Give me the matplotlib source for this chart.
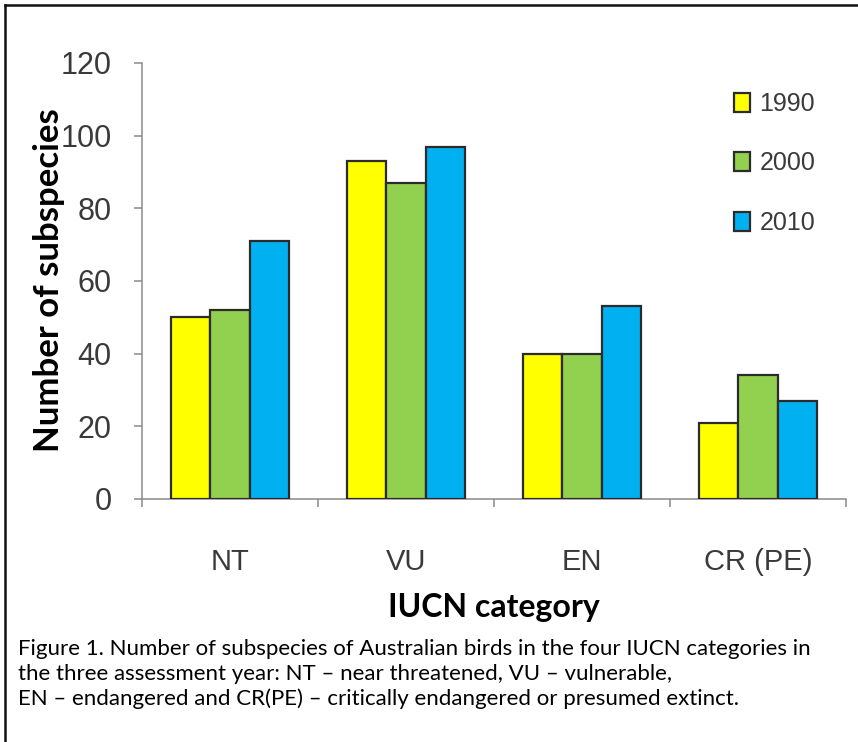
import numpy as np
import matplotlib
matplotlib.use('Agg')
import matplotlib.pyplot as plt
from matplotlib.lines import Line2D

# Data
categories = ['NT', 'VU', 'EN', 'CR (PE)']
years = ['1990', '2000', '2010']
vals_1990 = [50, 93, 40, 21]
vals_2000 = [52, 87, 40, 34]
vals_2010 = [71, 97, 53, 27]
yticks = [0, 20, 40, 60, 80, 100, 120]

caption = ("Figure 1. Number of subspecies of Australian birds in the four IUCN categories in\n"
           "the three assessment year: NT \u2013 near threatened, VU \u2013 vulnerable,\n"
           "EN \u2013 endangered and CR(PE) \u2013 critically endangered or presumed extinct.")

# Colors
YELLOW = '#FFFF00'
GREEN = '#92D050'
BLUE = '#00B0F0'
EDGE = '#2B2B2B'
AXIS = '#8A8A8A'
TXT = '#3A3A3A'

NARROW = ['Liberation Sans', 'DejaVu Sans']
HUMAN = ['Lato', 'DejaVu Sans']

W, H = 858, 742
fig = plt.figure(figsize=(W / 100, H / 100), dpi=100)
fig.patch.set_facecolor('white')

# axes placed in pixel terms
x0, x1, ytop, ybot = 142, 846, 63, 499
ax = fig.add_axes([x0 / W, 1 - ybot / H, (x1 - x0) / W, (ybot - ytop) / H])

x = np.arange(len(categories)) + 0.5
bw = 0.222
series = [vals_1990, vals_2000, vals_2010]
colors = [YELLOW, GREEN, BLUE]
bars = []
for i, (v, c) in enumerate(zip(series, colors)):
    b = ax.bar(x + (i - 1) * bw, v, width=bw, color=c, edgecolor=EDGE,
               linewidth=1.6, zorder=3, label=years[i])
    bars.append(b)

ax.set_xlim(0, len(categories))
ax.set_ylim(0, 120)
ax.set_yticks(yticks)
ax.set_yticklabels([str(t) for t in yticks], family=NARROW, fontsize=22, color=TXT)

ax.set_xticks(np.arange(len(categories) + 1))
ax.set_xticklabels([])
ax.set_xticks(x, minor=True)
ax.set_xticklabels(categories, minor=True, family=NARROW, fontsize=21, color=TXT, va='top')
ax.tick_params(axis='x', which='major', length=6, width=1.1, color=AXIS, direction='out')
ax.tick_params(axis='x', which='minor', length=0, pad=35)
ax.tick_params(axis='y', length=6, width=1.1, color=AXIS, direction='out', pad=16)

for s in ['top', 'right']:
    ax.spines[s].set_visible(False)
for s in ['left', 'bottom']:
    ax.spines[s].set_color(AXIS)
    ax.spines[s].set_linewidth(1.1)

# Axis titles
fig.text(49 / W, 1 - 280 / H, 'Number of subspecies', rotation=90, ha='center', va='center',
         family=HUMAN, fontweight='bold', fontsize=25, color='black')
fig.text(494 / W, 1 - 607 / H, 'IUCN category', ha='center', va='center',
         family=HUMAN, fontweight='bold', fontsize=23, color='black')

# Legend
ax.legend(handles=[b[0] for b in bars], labels=years, loc='upper left',
          bbox_to_anchor=(734 / W, 1 - 92 / H), bbox_transform=fig.transFigure,
          frameon=False, prop={'family': NARROW, 'size': 18}, labelcolor=TXT,
          handlelength=0.62, handleheight=0.8, handletextpad=0.4,
          labelspacing=1.42, borderpad=0, borderaxespad=0)

# Caption
fig.text(18 / W, 1 - 639 / H, caption, ha='left', va='top', family=HUMAN,
         fontsize=16, color='black', linespacing=1.3)

# Outer frame (top and left only)
fig.add_artist(Line2D([5 / W, 1], [1 - 5 / H, 1 - 5 / H], transform=fig.transFigure,
                      color='#111111', linewidth=1.8))
fig.add_artist(Line2D([5 / W, 5 / W], [0, 1 - 5 / H], transform=fig.transFigure,
                      color='#111111', linewidth=1.8))

fig.savefig('out.png', dpi=100, facecolor='white')
